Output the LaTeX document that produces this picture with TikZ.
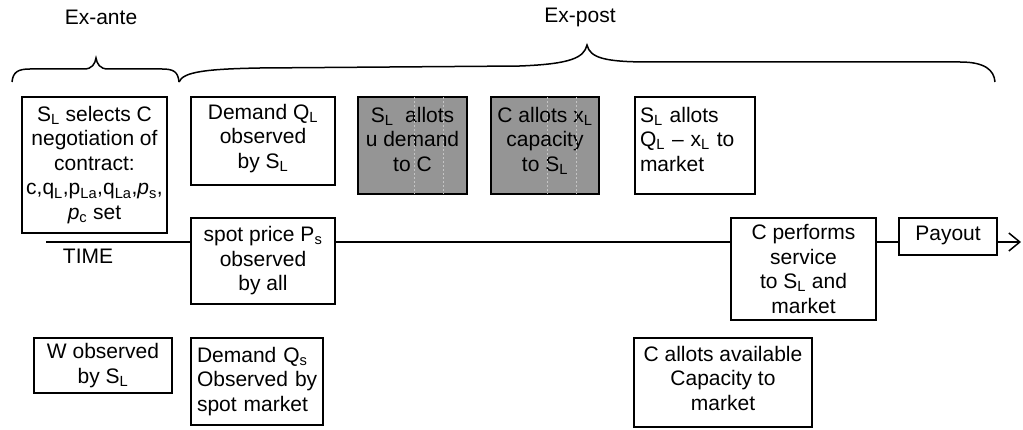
\documentclass[tikz,border=0pt]{standalone}
\usepackage{fontspec}
\setmainfont{Liberation Sans}
\usetikzlibrary{arrows.meta,calc}
% subscript and an invisible strut that pushes the text block upwards
\newcommand\lo[1]{\textsubscript{#1}}
\newcommand\lift[1]{\rule[-#1]{0pt}{#1}}
\definecolor{shade}{HTML}{959595}
\definecolor{seam}{HTML}{C4C4C4}
\begin{document}
\begin{tikzpicture}[x=1pt,y=-1pt,
  every node/.style={font=\fontsize{21}{24.5}\selectfont, inner sep=0pt},
  box/.style={draw, line width=1.6pt, align=center},
  leftbox/.style={draw, line width=1.6pt, align=left, inner xsep=5pt},
  shadebox/.style={draw, line width=2.4pt, fill=shade, align=center},
  seamline/.style={seam, line width=0.7pt, dash pattern=on 2pt off 2pt},
  timeline/.style={line width=1.5pt},
  brace/.style={line width=1.5pt}]
\useasboundingbox (0,0) rectangle (1023,430);

% phase labels and braces
\node (exante) at (101,17) {Ex-ante};
\node (expost) at (580,17) {Ex-post};
\draw[brace] (12,82) .. controls (13,72) and (18,69) .. (30,69) -- (84,69)
  .. controls (92,69) and (95,64) .. (96,58)
  .. controls (97,64) and (100,69) .. (108,69) -- (162,69)
  .. controls (174,69) and (178,72) .. (179,82);
\draw[brace] (179,82) .. controls (183,72) and (205,69) .. (260,68) -- (520,66)
  .. controls (570,64) and (584,58) .. (587,45)
  .. controls (590,58) and (605,62) .. (650,62) -- (960,62)
  .. controls (985,62) and (994,70) .. (995,82);

% upper row of events
\node[box, minimum width=145pt, minimum height=136pt] (select) at (94.5,165)
  {S\lo{L} selects C\\negotiation of\\contract:\\c,q\lo{L},p\lo{La},q\lo{La},\textit{p}\lo{s},\\\textit{p}\lo{c} set\lift{4pt}};
\node[box, minimum width=144pt, minimum height=88pt] (demL) at (263,141)
  {Demand Q\lo{L}\\observed\\by S\lo{L}\lift{10pt}};
\node[shadebox, minimum width=109pt, minimum height=97pt] (uall) at (412.5,145.5)
  {S\lo{L}\ \ allots\\u demand\\to C\lift{13pt}};
\node[shadebox, minimum width=108pt, minimum height=97pt] (xall) at (545,145.5)
  {C allots x\lo{L}\\capacity\\to S\lo{L}\lift{13pt}};
\node[leftbox, text width=110pt, minimum height=97pt] (mall) at (695,145.5)
  {\mbox{S\lo{L} allots}\\\mbox{Q\lo{L} -- x\lo{L} to}\\market\lift{13pt}};

% faint seams across the shaded boxes
\foreach \b in {uall,xall}{
  \foreach \d in {58,87}{
    \draw[seamline] ($(\b.north west)+(\d,1.5)$) -- ($(\b.south west)+(\d,-1.5)$);
  }
}

% events on the time axis
\node[box, minimum width=144pt, minimum height=86pt] (spot) at (263,261)
  {spot price P\lo{s}\\observed\\by all\lift{5pt}};
\node[box, minimum width=145pt, minimum height=102pt] (serve) at (803.5,269)
  {C performs\\service\\to S\lo{L} and\\market};
\node[box, minimum width=98pt, minimum height=37pt] (pay) at (948,236.5)
  {Payout\lift{7pt}};

% lower row of events
\node[box, minimum width=138pt, minimum height=55pt] (wobs) at (103,365.5)
  {W observed\\by S\lo{L}};
\node[leftbox, inner xsep=6pt, text width=120pt, minimum height=87pt] (demS) at (257,381.5)
  {\mbox{Demand Q\lo{s}}\\\mbox{Observed by}\\\mbox{spot market}\lift{5pt}};
\node[box, minimum width=178pt, minimum height=89pt] (cap) at (723,382.5)
  {C allots available\\Capacity to\\market\lift{9pt}};

% time axis
\coordinate (t0) at (46,242);
\coordinate (t1) at (1021,242);
\node (time) at (88,256) {TIME};
\draw[timeline] (t0) -- (t0 -| spot.west);
\draw[timeline] (spot.east |- t0) -- (serve.west |- t0);
\draw[timeline] (serve.east |- t0) -- (pay.west |- t0);
\draw[timeline, -{Straight Barb[length=11pt,width=18pt,line width=1.5pt]}]
  (pay.east |- t0) -- (t1);
\end{tikzpicture}
\end{document}
